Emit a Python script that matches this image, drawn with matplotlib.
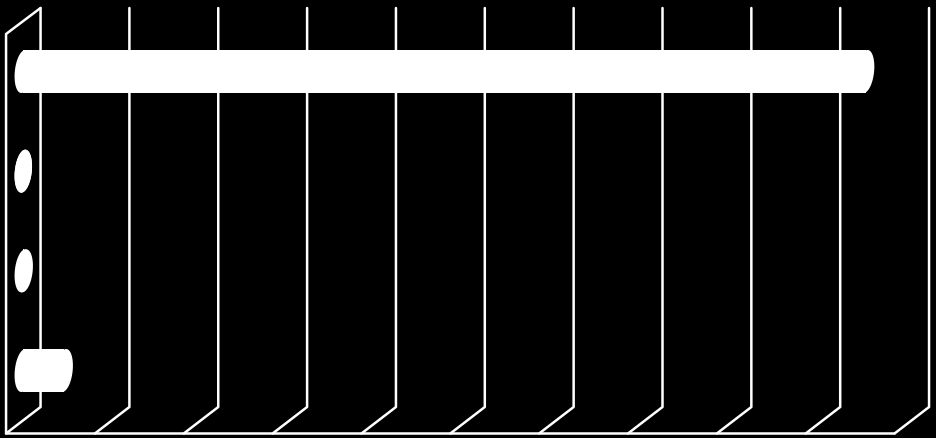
import numpy as np
import matplotlib
matplotlib.use("Agg")
import matplotlib.pyplot as plt

categories = ["A", "B", "C", "D"]
values = [9.48, 0.0, 0.01, 0.46]
ticks = list(range(0, 11))

W, H = 937, 438
PX_X = 88.85      # pixels per value unit
X0 = 23.3         # pixel of value 0 at mid depth
ROW = 99.67       # pixels per category
Y0 = 71.5         # pixel of first category centre
DX = 17.25 / PX_X  # half-depth, value units
TOP = (8 - Y0) / ROW
BACK_BOT = (407 - Y0) / ROW
FRONT_TOP = (34 - Y0) / ROW
FRONT_BOT = (433.5 - Y0) / ROW
BAR_H = 43 / ROW
WHITE = "#ffffff"
LW = 1.8

fig = plt.figure(figsize=(W / 100, H / 100), dpi=100, facecolor="black")
ax = fig.add_axes([0, 0, 1, 1], facecolor="black")
ax.set_xlim(-X0 / PX_X, (W - X0) / PX_X)
ax.set_ylim((H - Y0) / ROW, -Y0 / ROW)
ax.axis("off")

kw = dict(color=WHITE, lw=LW, solid_capstyle="round", solid_joinstyle="round", zorder=1)

# back wall gridlines and floor diagonals
for t in ticks:
    ax.plot([t + DX, t + DX, t - DX], [TOP, BACK_BOT, FRONT_BOT], **kw)

# side wall and floor front edge
ax.plot([0 + DX, 0 - DX, 0 - DX, ticks[-1] - DX],
        [TOP, FRONT_TOP, FRONT_BOT, FRONT_BOT], **kw)

# cylinder bars
theta = np.linspace(0, 2 * np.pi, 200)
a = 8.5 / PX_X
tilt = 2.0 / PX_X
b = BAR_H / 2


def cap(cx, cy):
    return cx + a * np.cos(theta) + tilt * np.sin(-theta), cy + b * np.sin(theta)


for i, v in enumerate(values):
    ax.barh(i, v, height=BAR_H, left=0, color=WHITE, linewidth=0, zorder=3)
    for cx in (0, v):
        x, y = cap(cx, i)
        ax.fill(x, y, color=WHITE, linewidth=0, zorder=3)

fig.savefig("out.png", dpi=100, facecolor="black")
